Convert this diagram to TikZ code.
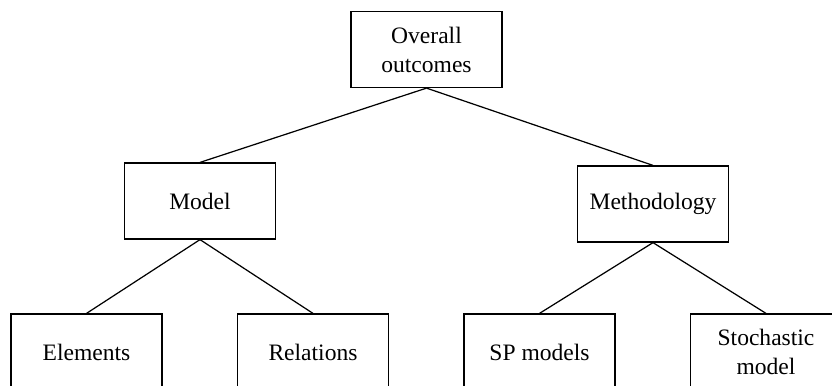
\documentclass[tikz,border=0pt]{standalone}
\usepackage{fontspec}
\setmainfont{Liberation Serif}
\usepackage{tikz}
\newcommand{\widthbox}{3.02cm}
\newcommand{\heightbox}{1.52cm}
\newcommand{\gapbox}{4.53cm}
\tikzset{
    box/.style={draw, rectangle, line width=0.7pt, minimum width=\widthbox, minimum height=\heightbox,
        align=center, inner sep=0pt, font=\fontsize{13.4}{16.5}\selectfont},
    link/.style={line width=0.7pt}
}

\begin{document}
\begin{tikzpicture}
    \clip (0,0) rectangle (16.64,-7.7);

    % top level
    \path
        (8.53,-0.99) node[box] (overall) {Overall\\outcomes};

    % second level
    \path
        (4.0,-4.02) node[box] (model) {Model}
        ++(9.06,-0.06) node[box] (method) {Methodology};

    % third level, runs off the bottom edge
    \path
        (1.73,-7.04) node[box] (elements) {Elements}
        ++(0:\gapbox) node[box] (relations) {Relations}
        ++(0:\gapbox) node[box] (spmodels) {SP models}
        ++(0:\gapbox) node[box] (stochastic) {Stochastic\\model};

    \draw[link] (overall.south) -- (model.north);
    \draw[link] (overall.south) -- (method.north);
    \draw[link] (model.south) -- (elements.north);
    \draw[link] (model.south) -- (relations.north);
    \draw[link] (method.south) -- (spmodels.north);
    \draw[link] (method.south) -- (stochastic.north);
\end{tikzpicture}
\end{document}
